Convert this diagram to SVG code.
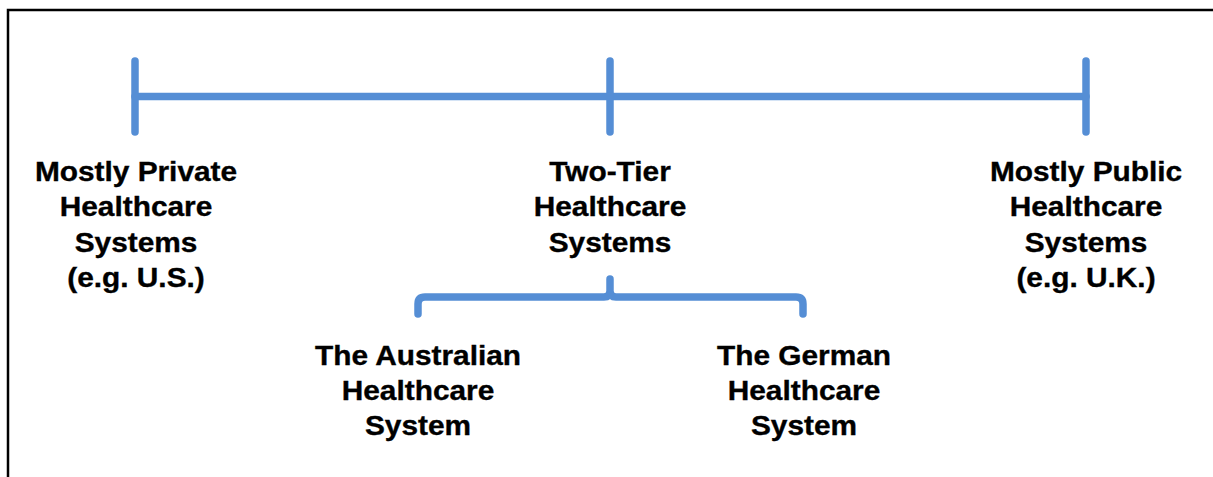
<svg xmlns="http://www.w3.org/2000/svg" width="1213" height="477" viewBox="0 0 1213 477">
  <style>
    .frame { stroke: #000; stroke-width: 2.5; fill: none; }
    .axis { stroke: #558ED5; stroke-width: 7.5; stroke-linecap: round; stroke-linejoin: round; fill: none; }
    .lbl { font-family: "Liberation Sans", Arial, sans-serif; font-weight: bold; font-size: 27px; fill: #000; stroke: #000; stroke-width: 0.35; text-anchor: middle; }
  </style>
  <rect width="1213" height="477" fill="#fff"/>
  <path class="frame" d="M8,477 V10 H1213"/>

  <g id="connectors">
    <!-- main spectrum line with end and midpoint ticks -->
    <line class="axis" x1="135" y1="96.5" x2="1086" y2="96.5"/>
    <line class="axis" x1="135" y1="61" x2="135" y2="132"/>
    <line class="axis" x1="610" y1="61" x2="610" y2="132"/>
    <line class="axis" x1="1086" y1="61" x2="1086" y2="132"/>
    <!-- brace grouping the two-tier examples -->
    <path class="axis" d="M418,314 V304 Q418,297 425,297 H604 Q610,297 610,291 V279 M610,291 Q610,297 616,297 H796 Q803,297 803,304 V314"/>
  </g>

  <g id="private">
    <g transform="translate(136,0) scale(1.105,1)">
      <text class="lbl" x="0" y="181">Mostly Private</text>
      <text class="lbl" x="0" y="216.5">Healthcare</text>
      <text class="lbl" x="0" y="252">Systems</text>
      <text class="lbl" x="0" y="287.5">(e.g. U.S.)</text>
    </g>
  </g>

  <g id="two-tier">
    <g transform="translate(610,0) scale(1.105,1)">
      <text class="lbl" x="0" y="181">Two-Tier</text>
      <text class="lbl" x="0" y="216.5">Healthcare</text>
      <text class="lbl" x="0" y="252">Systems</text>
    </g>
  </g>

  <g id="public">
    <g transform="translate(1086,0) scale(1.105,1)">
      <text class="lbl" x="0" y="181">Mostly Public</text>
      <text class="lbl" x="0" y="216.5">Healthcare</text>
      <text class="lbl" x="0" y="252">Systems</text>
      <text class="lbl" x="0" y="287.5">(e.g. U.K.)</text>
    </g>
  </g>

  <g id="australian">
    <g transform="translate(418,0) scale(1.105,1)">
      <text class="lbl" x="0" y="365">The Australian</text>
      <text class="lbl" x="0" y="400">Healthcare</text>
      <text class="lbl" x="0" y="435">System</text>
    </g>
  </g>

  <g id="german">
    <g transform="translate(804,0) scale(1.105,1)">
      <text class="lbl" x="0" y="365">The German</text>
      <text class="lbl" x="0" y="400">Healthcare</text>
      <text class="lbl" x="0" y="435">System</text>
    </g>
  </g>
</svg>
